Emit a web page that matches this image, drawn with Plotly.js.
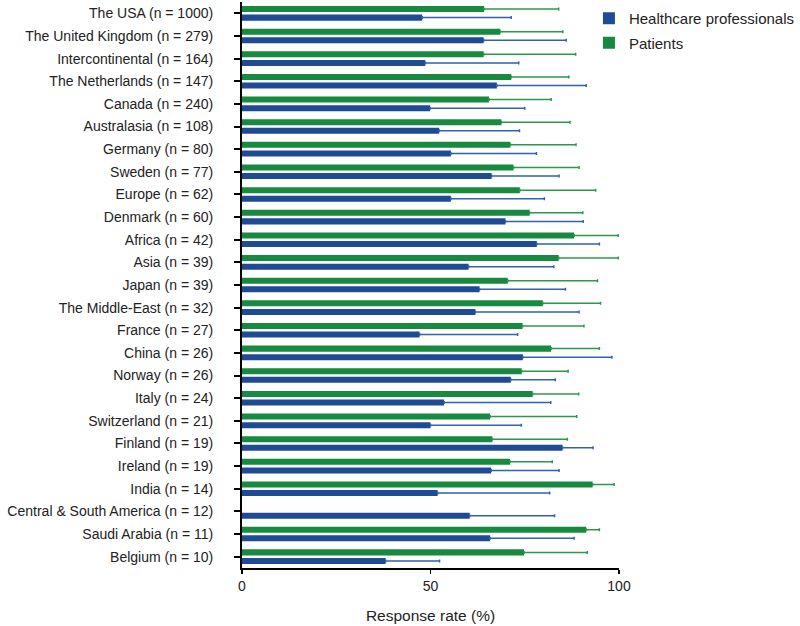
<!DOCTYPE html>
<html>
<head>
<meta charset="utf-8">
<script src="https://cdn.plot.ly/plotly-3.0.1.min.js"></script>
<style>
  html, body { margin: 0; padding: 0; background: #fff; }
  #chart { width: 800px; height: 626px; }
</style>
</head>
<body>
<div id="chart"></div>
<script>
const regions = [
    'The USA (n = 1000)', 'The United Kingdom (n = 279)', 'Intercontinental (n = 164)',
    'The Netherlands (n = 147)', 'Canada (n = 240)', 'Australasia (n = 108)',
    'Germany (n = 80)', 'Sweden (n = 77)', 'Europe (n = 62)', 'Denmark (n = 60)',
    'Africa (n = 42)', 'Asia (n = 39)', 'Japan (n = 39)', 'The Middle-East (n = 32)',
    'France (n = 27)', 'China (n = 26)', 'Norway (n = 26)', 'Italy (n = 24)',
    'Switzerland (n = 21)', 'Finland (n = 19)', 'Ireland (n = 19)', 'India (n = 14)',
    'Central & South America (n = 12)', 'Saudi Arabia (n = 11)', 'Belgium (n = 10)'
];

// response rate (%) and upper error bar end (%)
const hcpRate = [47.8, 64.1, 48.6, 67.6, 49.9, 52.3, 55.4, 66.2, 55.4, 69.9,
    78.2, 60.1, 63.0, 61.9, 47.1, 74.5, 71.3, 53.6, 50.0, 85.0,
    66.1, 51.9, 60.4, 65.8, 38.1];
const hcpUpper = [71.4, 86.0, 73.4, 91.3, 75.0, 73.6, 78.1, 84.1, 80.2, 90.5,
    94.8, 82.7, 85.8, 89.4, 73.1, 98.1, 83.1, 81.9, 74.1, 93.1,
    84.1, 81.6, 82.9, 88.1, 52.4];

const patRate = [64.2, 68.5, 64.1, 71.4, 65.5, 68.8, 71.2, 72.0, 73.7, 76.3,
    88.1, 84.0, 70.5, 79.8, 74.4, 82.0, 74.2, 77.1, 65.8, 66.4,
    71.1, 93.0, null, 91.3, 74.8];
const patUpper = [84.0, 85.1, 88.5, 86.7, 82.0, 87.0, 88.6, 89.4, 93.8, 90.4,
    99.8, 99.8, 94.3, 95.1, 90.7, 94.8, 86.5, 89.3, 88.8, 86.3,
    82.3, 98.7, null, 94.8, 91.6];

const plus = (rate, upper) => rate.map((v, i) => v == null ? null : +(upper[i] - v).toFixed(1));
const zeros = regions.map(() => 0);

// patients drawn first so their bar sits above the HCP bar in each group
const patients = {
    type: 'bar',
    orientation: 'h',
    name: 'Patients',
    legendgroup: 'pat',
    legendrank: 2,
    y: regions,
    x: patRate,
    marker: { color: '#178a3f' },
    error_x: {
        type: 'data', symmetric: false,
        array: plus(patRate, patUpper), arrayminus: zeros,
        color: '#2b9a48', thickness: 1.5, width: 1.5
    }
};

const hcp = {
    type: 'bar',
    orientation: 'h',
    name: 'Healthcare professionals',
    legendgroup: 'hcp',
    legendrank: 1,
    y: regions,
    x: hcpRate,
    marker: { color: '#1f4a94' },
    error_x: {
        type: 'data', symmetric: false,
        array: plus(hcpRate, hcpUpper), arrayminus: zeros,
        color: '#2f62b0', thickness: 1.5, width: 1.5
    }
};

const FAM = 'Liberation Sans, Arial, sans-serif';
const INK = '#222';

const layout = {
    width: 800,
    height: 626,
    margin: { l: 242, r: 180, t: 2, b: 58 },
    paper_bgcolor: '#fff',
    plot_bgcolor: '#fff',
    font: { family: FAM, size: 14, color: INK },
    barmode: 'group',
    bargap: 0.24,
    bargroupgap: 0.3,
    showlegend: true,
    legend: {
        x: 1.476, y: 1.0, xanchor: 'right', yanchor: 'top',
        traceorder: 'grouped',
        tracegroupgap: 2,
        itemwidth: 30,
        font: { family: FAM, size: 15, color: INK }
    },
    xaxis: {
        range: [0, 100],
        tickvals: [0, 50, 100],
        ticks: 'outside', ticklen: 4, tickwidth: 1.5, tickcolor: '#000',
        showline: true, linecolor: '#000', linewidth: 2,
        showgrid: false, zeroline: false,
        tickfont: { family: FAM, size: 14, color: INK },
        title: { text: 'Response rate (%)', standoff: 17, font: { family: FAM, size: 15.5, color: INK } }
    },
    yaxis: {
        type: 'category',
        categoryorder: 'array',
        categoryarray: regions,
        autorange: 'reversed',
        ticks: 'outside', ticklen: 6, tickwidth: 2, tickcolor: '#000',
        showline: true, linecolor: '#000', linewidth: 2,
        showgrid: false, zeroline: false,
        ticklabelstandoff: 18,
        tickfont: { family: FAM, size: 14, color: INK }
    }
};

Plotly.newPlot('chart', [patients, hcp], layout, { displayModeBar: false, staticPlot: true });
</script>
</body>
</html>
